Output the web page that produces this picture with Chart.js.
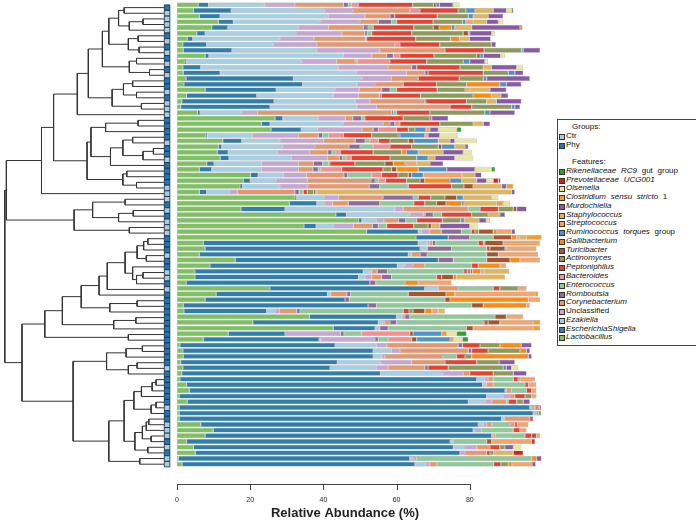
<!DOCTYPE html>
<html>
<head>
<meta charset="utf-8">
<script src="https://cdn.jsdelivr.net/npm/chart.js@4.4.1/dist/chart.umd.min.js"></script>
<style>
  html, body { margin: 0; padding: 0; background: #fff; }
  #wrap { position: relative; width: 696px; height: 523px; overflow: hidden; }
  #wrap canvas { position: absolute; top: 0; left: 0; }
  #legend {
    position: absolute; left: 557px; top: 119px; width: 170px; height: 227px;
    border: 1px solid #444; box-sizing: border-box; padding-top: 3px;
    font: 8px "Liberation Sans", Arial, sans-serif; color: #111; word-spacing: 2.5px;
  }
  #legend .row { position: relative; height: 8.78px; line-height: 8.78px; white-space: nowrap; }
  #legend .head { padding-left: 14px; }
  #legend .sw { position: absolute; left: 1px; top: 2px; width: 4px; height: 4px; border: 0.6px solid #333; }
  #legend .txt { position: absolute; left: 8px; top: 0; }
  #legend i { font-style: italic; }
</style>
</head>
<body>
<div id="wrap">
  <canvas id="treeChart" width="177" height="523"></canvas>
  <canvas id="barChart" width="557" height="523"></canvas>
  <div id="legend"></div>
</div>
<script>
// one entry per sample, top to bottom
var groups = [
  "Phy","Ctr","Ctr","Ctr","Ctr","Phy","Ctr","Phy","Ctr","Phy",
  "Ctr","Phy","Ctr","Phy","Phy","Ctr","Phy","Ctr","Ctr","Ctr",
  "Phy","Phy","Phy","Phy","Ctr","Phy","Phy","Ctr","Phy","Phy",
  "Phy","Phy","Ctr","Ctr","Ctr","Phy","Ctr","Phy","Ctr","Ctr",
  "Ctr","Phy","Phy","Phy","Ctr","Phy","Phy","Ctr","Ctr","Phy",
  "Ctr","Phy","Phy","Phy","Phy","Phy","Phy","Phy","Phy","Phy",
  "Phy","Phy","Phy","Phy","Ctr","Phy","Phy","Phy","Phy","Phy",
  "Phy","Ctr","Phy","Phy","Ctr","Ctr","Ctr","Phy","Ctr","Phy",
  "Ctr","Ctr"
];
var samples = groups.map(function (g, i) { return g + "_" + (i + 1); });

// relative abundance (%) per feature, same sample order
var lactobacillus = [
  5.8, 4.5, 6.1, 11.3, 9.5, 5.4, 2.8, 1.6, 1.7, 7.7,
  2.2, 1.6, 1.7, 2.5, 1.9, 7.7, 2.6, 1.3, 1.0, 5.6,
  26.8, 23.1, 25.7, 7.9, 12.5, 11.3, 11.0, 11.8, 8.1, 6.1,
  20.1, 18.1, 17.2, 6.1, 32.2, 30.7, 17.5, 43.4, 49.6, 34.7,
  51.8, 65.3, 7.2, 7.7, 6.1, 15.9, 9.0, 4.9, 4.9, 2.5,
  25.4, 10.7, 7.7, 1.7, 1.9, 36.2, 20.7, 42.7, 14.0, 7.2,
  0.8, 1.6, 1.7, 1.0, 1.6, 1.3, 0.8, 2.6, 3.4, 0.6,
  2.8, 0.6, 0.6, 0.6, 6.5, 9.9, 7.7, 2.6, 4.5, 5.0,
  0.4, 1.4
];
var escherichia = [
  2.8, 10.3, 5.7, 4.1, 4.4, 2.3, 1.5, 6.5, 13.3, 1.0,
  0.3, 4.9, 10.1, 29.3, 32.4, 19.4, 19.2, 25.2, 24.4, 0.7,
  2.1, 2.3, 8.2, 0.4, 5.2, 0.9, 3.0, 2.4, 2.0, 3.4,
  2.1, 1.9, 0.7, 2.0, 0.5, 7.5, 12.0, 2.9, 0.9, 3.3,
  14.1, 8.8, 58.7, 58.7, 57.1, 55.5, 51.2, 46.0, 44.7, 50.2,
  42.3, 30.4, 38.2, 50.5, 22.6, 23.8, 34.3, 11.4, 15.5, 31.6,
  42.4, 52.0, 51.9, 42.8, 40.2, 54.3, 81.1, 80.9, 86.2, 84.0,
  76.8, 95.8, 96.7, 88.1, 75.8, 71.0, 78.3, 72.0, 71.0, 72.3,
  63.2, 63.6
];
var ezakiella = [
  15.4, 25.6, 29.6, 23.7, 19.3, 24.8, 23.8, 18.2, 23.2, 36.8,
  31.6, 37.6, 37.3, 18.7, 14.8, 16.1, 20.9, 22.2, 23.7, 11.4,
  9.7, 20.0, 4.5, 12.3, 10.4, 16.7, 13.4, 17.1, 13.0, 13.6,
  6.9, 7.1, 10.2, 6.4, 7.5, 2.2, 30.0, 17.3, 4.0, 4.9,
  0.9, 0, 2.5, 2.0, 0.9, 0, 2.1, 1.8, 1.8, 0,
  3.7, 0.9, 0, 0, 2.3, 1.4, 1.2, 1.3, 0, 0.5,
  11.3, 5.0, 2.3, 11.8, 12.7, 17.1, 2.2, 1.1, 0.4, 4.5,
  4.5, 0.6, 0.5, 0.9, 1.4, 0.5, 0.4, 0.9, 2.9, 0,
  0.9, 3.0
];
var unclassified = [
  8.2, 7.7, 9.9, 10.9, 8.2, 12.5, 9.3, 11.9, 17.2, 7.7,
  9.5, 13.6, 13.6, 8.1, 5.0, 6.6, 6.9, 4.0, 5.4, 4.3,
  7.4, 10.9, 12.1, 12.6, 11.9, 8.8, 8.9, 9.8, 10.1, 10.1,
  6.3, 8.5, 7.5, 2.0, 3.9, 2.1, 2.3, 3.7, 2.0, 5.3,
  2.2, 0, 0.6, 0, 0, 0, 2.2, 0.5, 1.8, 0,
  0, 0, 0, 0, 1.2, 0.9, 0.6, 0, 15.2, 14.8,
  2.8, 2.3, 0.9, 8.5, 3.2, 5.5, 0.9, 0, 0, 1.9,
  1.9, 0, 0, 0, 0.9, 1.8, 0, 0, 3.5, 1.4,
  1.0, 1.0
];
var corynebacterium = [
  13.3, 15.5, 6.9, 5.0, 9.5, 6.3, 14.1, 21.3, 17.8, 4.1,
  5.1, 6.4, 5.0, 7.3, 7.7, 6.1, 5.7, 15.0, 20.1, 36.6,
  2.0, 1.9, 3.1, 5.4, 8.7, 9.3, 4.9, 3.3, 4.1, 3.9,
  10.2, 17.4, 16.9, 15.7, 12.2, 4.3, 17.8, 0.5, 4.0, 5.2,
  3.2, 0, 0.8, 0, 2.3, 0, 3.2, 1.5, 2.7, 0,
  5.4, 4.4, 0, 0, 4.7, 0, 1.4, 0, 0, 0,
  19.5, 18.7, 15.9, 9.1, 10.0, 1.8, 1.4, 1.8, 1.4, 1.3,
  4.0, 0.6, 0, 6.8, 1.4, 0, 0.6, 0, 3.6, 5.9,
  0, 2.0
];
var romboutsia = [
  1.3, 0, 1.3, 3.6, 1.3, 0.7, 0.3, 0, 0, 1.8,
  0.4, 1.4, 0.9, 0, 0, 2.3, 0.5, 0.3, 0, 0.5,
  2.4, 1.3, 1.4, 1.2, 2.7, 3.0, 1.1, 0.8, 2.5, 1.5,
  1.0, 1.1, 2.9, 1.2, 8.2, 8.6, 0, 2.2, 2.0, 1.6,
  5.5, 5.9, 0.9, 6.6, 2.0, 4.1, 0, 2.8, 2.7, 1.6,
  0, 1.0, 1.2, 2.3, 0.9, 1.3, 1.8, 2.3, 0.9, 0.9,
  1.2, 0.9, 0, 0, 0.9, 0, 0, 0, 0, 0,
  0, 0, 0, 0, 0, 0, 0, 0, 0, 0,
  0, 0
];
var enterococcus = [
  0.9, 0, 0, 1.4, 1.4, 1.2, 0, 0, 0, 0,
  0.2, 0, 0, 0, 0, 1.8, 0, 0, 0, 0.9,
  0.9, 0, 0, 1.6, 1.3, 3.6, 1.1, 1.0, 1.6, 0.7,
  6.6, 0.9, 7.8, 1.1, 1.4, 9.3, 3.2, 2.3, 3.0, 2.3,
  2.7, 6.4, 11.6, 9.6, 16.2, 9.1, 12.8, 20.9, 12.3, 8.0,
  9.6, 15.8, 26.1, 26.0, 28.2, 23.3, 23.9, 21.4, 4.8, 2.7,
  0, 0, 3.7, 0, 0, 0, 5.5, 8.7, 4.1, 0,
  0.5, 0.5, 0.5, 0, 5.0, 8.7, 8.1, 9.1, 0, 0,
  31.4, 15.5
];
var bacteroides = [
  1.8, 2.8, 0, 0, 0, 0, 0, 1.4, 0, 1.8,
  8.9, 0, 0, 0, 0, 0, 0, 0, 0, 0,
  0, 1.4, 5.0, 4.1, 2.3, 4.6, 1.2, 1.4, 0.4, 5.7,
  2.7, 2.0, 0, 0, 0, 0, 0, 0, 0, 0,
  0, 0, 0, 0, 0, 0, 0, 0, 0, 0,
  0, 0, 0, 0, 0, 0, 0, 0, 13.2, 6.4,
  0, 0, 0, 0, 0, 0, 0, 0, 0, 0,
  0, 0, 0, 0, 1.3, 0, 0, 0, 0, 0,
  0, 0
];
var peptoniphilus = [
  14.9, 10.4, 11.6, 10.0, 11.1, 10.9, 13.4, 10.9, 10.7, 9.3,
  10.0, 11.8, 15.1, 11.2, 9.1, 11.1, 10.7, 11.1, 5.9, 9.1,
  10.5, 10.9, 3.2, 7.7, 3.2, 5.9, 9.0, 10.6, 6.8, 11.3,
  4.5, 5.7, 11.8, 1.1, 3.4, 3.0, 5.0, 8.2, 7.0, 7.4,
  1.0, 0, 1.4, 0.9, 0, 0, 1.8, 0.9, 1.4, 0,
  1.8, 0, 0, 0, 1.6, 0, 1.1, 0, 0, 0,
  4.8, 4.5, 2.3, 8.7, 5.5, 6.4, 1.3, 0.9, 1.4, 2.8,
  2.3, 0.5, 0, 0.9, 0.7, 1.8, 1.8, 0, 2.7, 0.9,
  0, 2.0
];
var actinomyces = [
  5.7, 2.1, 8.5, 8.0, 5.3, 14.1, 9.5, 14.1, 10.2, 11.7,
  10.0, 6.4, 6.8, 6.6, 8.2, 7.6, 14.4, 5.5, 10.9, 15.0,
  7.3, 9.1, 1.8, 7.2, 5.0, 7.3, 7.8, 7.3, 8.2, 2.3,
  2.8, 3.7, 3.4, 1.7, 3.9, 3.2, 4.1, 4.5, 5.0, 3.9,
  1.0, 0, 0.4, 0, 0, 0, 0, 0.9, 0, 0,
  5.0, 0, 0, 0, 1.1, 0, 0, 0, 0, 0,
  5.4, 8.7, 1.8, 6.1, 15.0, 5.5, 0.5, 0, 0, 1.8,
  1.8, 0, 0.5, 0, 0, 0, 0, 0, 1.4, 1.0,
  0, 2.0
];
var turicibacter = [
  0.7, 0, 0, 0, 1.6, 1.4, 0, 0, 0, 0.9,
  0, 0, 0, 0, 0, 0, 0, 0, 0, 0,
  0.5, 0, 0, 0.5, 1.5, 0.9, 0, 0, 2.3, 1.4,
  0.9, 1.3, 2.5, 0.5, 3.2, 2.6, 0.9, 0, 0, 0.9,
  4.0, 5.0, 5.0, 4.1, 3.2, 6.4, 0, 0.5, 3.2, 0,
  0, 10.3, 1.4, 3.2, 3.2, 3.1, 3.2, 1.8, 0.9, 1.4,
  0, 0, 0, 0, 0, 0, 0, 0, 0, 0,
  0, 0, 0.4, 0, 0, 0, 1.3, 1.4, 0, 0,
  0, 0
];
var gallibacterium = [
  0, 0, 0, 0, 3.4, 0, 2.5, 0, 0, 0,
  0, 0, 0, 0, 9.1, 0, 5.0, 0, 0, 0,
  0, 0, 0, 0, 0, 0, 1.3, 0, 3.2, 5.9,
  0, 6.9, 0, 0, 0, 4.3, 0, 0, 0, 0,
  1.0, 1.4, 0, 0.4, 0, 2.7, 5.9, 2.3, 0.9, 3.6,
  0, 2.4, 21.4, 11.8, 1.9, 0, 0, 0, 0, 0,
  5.9, 1.8, 15.5, 0, 0, 0, 0, 0, 0, 0,
  0, 0.5, 0.3, 0, 0, 0, 0, 0, 0, 0,
  1.3, 1.0
];
var ruminococcus = [
  0.9, 2.5, 1.3, 0.9, 0.9, 0.4, 0, 0, 0.5, 0.9,
  1.8, 0, 1.8, 0.9, 1.8, 0, 0, 0, 0.9, 1.4,
  0, 0, 3.0, 6.8, 6.7, 3.6, 3.2, 3.1, 0, 7.8,
  3.2, 3.2, 0, 0.4, 1.8, 0.6, 0, 0, 1.0, 0,
  0, 0, 0, 0, 0, 0, 0, 0, 0, 0,
  0, 0, 0, 0, 0, 0, 0, 0, 7.8, 9.1,
  0, 0, 0, 0, 0.9, 0, 0, 0, 0, 0,
  0, 0, 0, 0, 0, 0, 0, 0, 0, 0,
  0, 0
];
var streptococcus = [
  0, 0, 0, 2.0, 0, 0, 0, 0, 0, 0,
  0, 0, 0, 0, 0, 1.3, 0, 0, 0, 0,
  0, 0, 1.1, 0.9, 0, 0, 0, 0, 3.2, 0,
  10.5, 0, 0, 0, 0, 0, 0, 0, 0, 0,
  4.0, 0.7, 10.1, 8.2, 10.9, 5.5, 1.8, 1.0, 0, 9.1,
  2.3, 21.9, 3.2, 0.9, 1.8, 4.6, 9.1, 16.4, 0, 0,
  0, 0, 0, 0, 0, 0, 4.1, 2.2, 1.3, 1.3,
  0, 0, 0, 0, 3.0, 1.8, 1.0, 10.9, 0, 0,
  0, 5.5
];
var staphylococcus = [
  0, 5.0, 4.1, 3.7, 4.6, 0, 2.7, 0, 0, 0,
  0, 2.2, 0, 0, 0, 5.5, 2.6, 2.7, 0, 0,
  0, 2.8, 0, 0, 3.2, 2.8, 6.8, 1.9, 3.6, 0,
  3.6, 4.1, 7.8, 53.2, 7.8, 8.9, 0, 3.2, 4.0, 2.3,
  0, 2.0, 0, 0, 0, 0, 0, 6.8, 13.2, 0,
  0, 0, 0, 0, 1.8, 0, 0, 0, 0, 0,
  0, 0, 0, 0, 0, 0, 0, 0, 0, 0,
  0, 0, 0, 0, 0, 0, 0, 0, 0, 5.4,
  0, 0
];
var murdochiella = [
  3.7, 3.6, 4.1, 3.2, 13.2, 6.0, 5.8, 1.2, 4.6, 4.7,
  4.1, 6.9, 2.3, 11.8, 4.1, 4.5, 2.0, 6.8, 1.4, 6.8,
  4.5, 1.8, 2.3, 3.2, 1.3, 0.9, 5.5, 5.4, 3.6, 7.7,
  1.8, 2.7, 1.3, 0.9, 0, 0, 2.7, 1.4, 2.0, 8.2,
  1.0, 0, 0, 0, 0, 0, 0, 0, 0, 0,
  0, 0, 0, 0, 0, 0, 0, 0, 0, 0,
  2.8, 0.9, 0.9, 4.3, 1.4, 3.6, 0, 0, 0, 0,
  1.8, 0.4, 0, 0, 0, 0, 0, 0, 2.3, 0,
  1.4, 1.0
];
var clostridium = [
  0, 0, 0, 0, 0.7, 0, 0, 0, 0, 0,
  0, 0, 0, 0, 0, 0, 0, 0, 0, 0,
  0, 0, 0, 0, 0, 0, 0, 0, 0, 0,
  0, 0, 1.9, 0, 0, 1.8, 0, 0, 0, 0,
  0, 4.1, 0, 0, 0, 0, 0, 0, 0, 0,
  0, 0.9, 0, 0, 0, 0, 1.9, 1.9, 1.4, 0.9,
  0, 0, 0, 0, 0, 0, 0, 0, 0, 0,
  0, 0, 0, 0, 0, 0, 0, 0, 0, 0,
  0, 0
];
var olsenella = [
  1.8, 1.4, 0, 1.3, 0, 0.9, 0, 0, 0, 1.2,
  0.9, 1.8, 0, 0, 0, 0, 0, 0, 0, 0,
  0, 0, 5.0, 5.0, 6.0, 0, 2.3, 5.0, 0, 4.5,
  0, 1.8, 0, 0, 1.8, 1.9, 0, 0, 1.0, 2.3,
  0, 0, 0, 0, 0, 0, 0, 0, 0, 0,
  0, 0, 0, 0, 0, 0, 0, 0, 2.7, 2.5,
  0, 0, 0, 0, 1.8, 0, 0, 0, 0, 0,
  0, 0, 0, 0, 0, 0, 0, 0, 2.2, 0,
  0, 0
];
var prevotellaceae = [
  0, 0, 0, 0, 0, 0, 0, 0, 0, 0,
  0, 0, 0, 0, 0, 0, 0, 0, 0, 0,
  0, 0, 0, 0, 0, 0, 0, 0, 0, 0,
  0, 1.4, 0, 0, 0, 0, 0, 0, 0, 0,
  0, 0, 0, 0, 0, 0, 0, 0, 0, 0,
  0, 0, 0, 0, 0, 0, 0, 0, 0, 0,
  0, 0, 0, 0, 0, 0, 0, 0, 0, 0,
  0, 0, 0, 0, 0, 0, 0, 0.9, 0, 2.7,
  0, 0
];
var rikenellaceae = [
  0, 0.5, 0, 0, 0, 0, 0, 0, 0, 0,
  0, 0, 0, 0, 0, 0, 0, 0, 0, 0,
  0, 0, 1.3, 0, 0, 0, 0, 0, 0, 1.0,
  0, 0.6, 0, 0, 0, 0, 0, 0, 0, 0,
  0, 0, 0, 0, 0, 0, 0, 0, 0, 0,
  0, 0, 0, 0, 0, 0, 0, 0, 2.7, 1.6,
  0, 0, 0, 0, 0, 0, 0, 0, 0, 0,
  0, 0, 0, 0, 0, 0, 0, 0, 0, 0,
  0, 0
];

var tickValues = [0, 20, 40, 60, 80];

// hierarchical clustering: [left, right, merge height], leaves are sample indices
var dendrogram = [
  [
    [
      [
        [
          [
            [
              [[0, 1, 41], [[2, 3, 21.7], 4, 35.7], 46.7],
              [[5, 6, 26.7], [7, 8, 25.7], 36.7], 56.7
            ],
            [[9, 10, 28.3], [11, 12, 15], 35.7], 63.3
          ],
          [[[13, 14, 32.3], [15, 16, 28.3], 41.7], [17, 18, 23.3], 53.3], 77.7
        ],
        19, 89
      ],
      [
        [
          [[20, 21, 26.7], 22, 60],
          [[[23, 24, 32.3], [[25, 26, 11], 27, 21.7], 42.3], 28, 55], 75
        ],
        [[29, 30, 38.3], [31, 32, 28.3], 42.3], 79
      ],
      113.3
    ],
    33, 125.7
  ],
  [
    [[34, 35, 40], [[36, 37, 31.7], 38, 46.7], 73.3],
    [39, 40, 35.7], 92.3
  ],
  161.7
];
dendrogram = [dendrogram, [
  [
    [
      [
        [
          [
            [
              [[[41, 42, 16.7], 43, 21], [44, 45, 18.3], 27.7],
              [46, [[47, 48, 21.7], 49, 28.3], 32.3], 40
            ],
            50, 58.3
          ],
          51, 66.7
        ],
        [[52, 53, 27.7], 54, 55.7], 85
      ],
      [[55, 56, 29], 57, 51.7], 104.3
    ],
    [58, 59, 36.7], 122.3
  ],
  [
    [[[60, 61, 22.3], 62, 39], [[63, 64, 27.7], 65, 36.7], 59],
    [
      [
        [[[[66, 67, 8.3], 68, 12.3], 69, 23.3], [[70, 71, 8.3], 72, 13.3], 31],
        [[[[73, 74, 15.7], 75, 18.3], [76, 77, 13.3], 22.3], [78, 79, 16.7], 30], 41
      ],
      [80, 81, 25], 56.7
    ],
    93.3
  ],
  145.7
], 163.3];

var features = [
  { name: "Lactobacillus", label: "<i>Lactobacillus</i>", data: lactobacillus, color: "#7cc360" },
  { name: "EscherichiaShigella", label: "<i>EscherichiaShigella</i>", data: escherichia, color: "#2f7fad" },
  { name: "Ezakiella", label: "<i>Ezakiella</i>", data: ezakiella, color: "#a6cfe3" },
  { name: "Unclassified", label: "Unclassified", data: unclassified, color: "#c6a7d4" },
  { name: "Corynebacterium", label: "<i>Corynebacterium</i>", data: corynebacterium, color: "#e8976d" },
  { name: "Romboutsia", label: "<i>Romboutsia</i>", data: romboutsia, color: "#8f6b9b" },
  { name: "Enterococcus", label: "<i>Enterococcus</i>", data: enterococcus, color: "#8fc99a" },
  { name: "Bacteroides", label: "<i>Bacteroides</i>", data: bacteroides, color: "#f2908f" },
  { name: "Peptoniphilus", label: "<i>Peptoniphilus</i>", data: peptoniphilus, color: "#e8412f" },
  { name: "Actinomyces", label: "<i>Actinomyces</i>", data: actinomyces, color: "#8e9a58" },
  { name: "Turicibacter", label: "<i>Turicibacter</i>", data: turicibacter, color: "#a65628" },
  { name: "Gallibacterium", label: "<i>Gallibacterium</i>", data: gallibacterium, color: "#ff8a10" },
  { name: "Ruminococcus torques group", label: "<i>Ruminococcus torques</i> group", data: ruminococcus, color: "#4a94c8" },
  { name: "Streptococcus", label: "<i>Streptococcus</i>", data: streptococcus, color: "#f6a56a" },
  { name: "Staphylococcus", label: "<i>Staphylococcus</i>", data: staphylococcus, color: "#e0b65c" },
  { name: "Murdochiella", label: "<i>Murdochiella</i>", data: murdochiella, color: "#8a5aa6" },
  { name: "Clostridium sensu stricto 1", label: "<i>Clostridium sensu stricto</i> 1", data: clostridium, color: "#f39c2e" },
  { name: "Olsenella", label: "<i>Olsenella</i>", data: olsenella, color: "#ece69c" },
  { name: "Prevotellaceae UCG001", label: "<i>Prevotellaceae UCG001</i>", data: prevotellaceae, color: "#e31a1c" },
  { name: "Rikenellaceae RC9 gut group", label: "<i>Rikenellaceae RC9</i> gut group", data: rikenellaceae, color: "#33a02c" }
];
var groupColors = { Ctr: "#a6cee3", Phy: "#1f78b4" };

// ---- dendrogram ----
var treeSets = [];
function walk(node) {
  if (typeof node === "number") return { y: node, h: 0 };
  var a = walk(node[0]);
  var b = walk(node[1]);
  var h = node[2];
  treeSets.push({
    data: [{ x: a.h, y: a.y }, { x: h, y: a.y }, { x: h, y: b.y }, { x: b.h, y: b.y }],
    showLine: true,
    borderColor: "#333",
    borderWidth: 1,
    pointRadius: 0,
    pointHoverRadius: 0,
    clip: false,
  });
  return { y: (a.y + b.y) / 2, h: h };
}
walk(dendrogram);
treeSets.push({
  data: groups.map(function (g, i) { return { x: -3, y: i }; }),
  pointStyle: "rect",
  pointRadius: 3.9,
  pointBackgroundColor: groups.map(function (g) { return groupColors[g]; }),
  pointBorderColor: "#1b2836",
  pointBorderWidth: 0.8,
  showLine: false,
  clip: false,
});

new Chart(document.getElementById("treeChart"), {
  type: "scatter",
  data: { datasets: treeSets },
  options: {
    responsive: false,
    animation: false,
    events: [],
    layout: { padding: { left: 1, right: 7, top: 2, bottom: 56 } },
    scales: {
      x: { type: "linear", min: -6, max: 163.3, reverse: true, display: false },
      y: { type: "linear", min: -0.5, max: samples.length - 0.5, reverse: true, display: false },
    },
    plugins: { legend: { display: false }, tooltip: { enabled: false } },
  },
});

// ---- stacked bars ----
var bottomAxis = {
  id: "bottomAxis",
  afterDraw: function (chart) {
    var ctx = chart.ctx;
    var x = chart.scales.x;
    var y0 = chart.chartArea.bottom + 17;
    ctx.save();
    ctx.strokeStyle = "#444";
    ctx.lineWidth = 1;
    ctx.beginPath();
    ctx.moveTo(x.getPixelForValue(tickValues[0]), y0 + 0.5);
    ctx.lineTo(x.getPixelForValue(tickValues[tickValues.length - 1]), y0 + 0.5);
    tickValues.forEach(function (v) {
      var px = Math.round(x.getPixelForValue(v)) + 0.5;
      ctx.moveTo(px, y0);
      ctx.lineTo(px, y0 + 6);
    });
    ctx.stroke();
    ctx.fillStyle = "#222";
    ctx.textAlign = "center";
    ctx.font = "7px 'Liberation Sans', Arial, sans-serif";
    tickValues.forEach(function (v) {
      ctx.fillText(String(v), x.getPixelForValue(v), y0 + 18);
    });
    ctx.font = "bold 13px 'Liberation Sans', Arial, sans-serif";
    ctx.fillText("Relative Abundance (%)", 345, 517);
    ctx.restore();
  },
};

new Chart(document.getElementById("barChart"), {
  type: "bar",
  data: {
    labels: samples,
    datasets: features.map(function (f) {
      return {
        label: f.name,
        data: f.data,
        backgroundColor: f.color,
        borderColor: "rgba(125,125,125,0.85)",
        borderWidth: 0.5,
        borderSkipped: false,
        barPercentage: 0.86,
        categoryPercentage: 1,
      };
    }),
  },
  options: {
    indexAxis: "y",
    responsive: false,
    animation: false,
    events: [],
    layout: { padding: { left: 177, right: 14, top: 2, bottom: 56 } },
    scales: {
      x: { type: "linear", min: 0, max: 100, stacked: true, display: false },
      y: { stacked: true, display: false },
    },
    plugins: { legend: { display: false }, tooltip: { enabled: false } },
  },
  plugins: [bottomAxis],
});

// ---- legend ----
var html = '<div class="row head">Groups:</div>';
["Ctr", "Phy"].forEach(function (g) {
  html += '<div class="row"><span class="sw" style="background:' + groupColors[g] + '"></span><span class="txt">' + g + "</span></div>";
});
html += '<div class="row"></div><div class="row head">Features:</div>';
features.slice().reverse().forEach(function (f) {
  html += '<div class="row"><span class="sw" style="background:' + f.color + '"></span><span class="txt">' + f.label + "</span></div>";
});
document.getElementById("legend").innerHTML = html;
</script>
</body>
</html>
